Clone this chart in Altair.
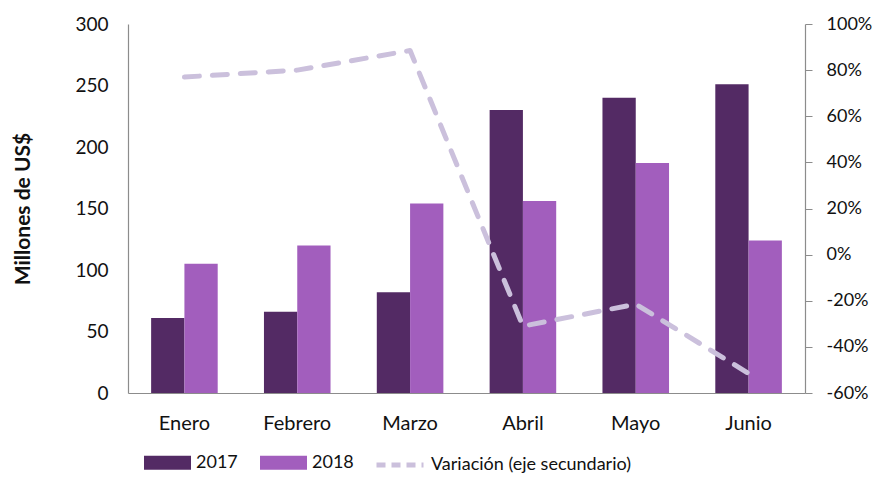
import altair as alt
import pandas as pd

meses = ["Enero", "Febrero", "Marzo", "Abril", "Mayo", "Junio"]
v2017 = [61, 66, 82, 230, 240, 251]
v2018 = [105, 120, 154, 156, 187, 124]
variacion = [0.77, 0.80, 0.885, -0.31, -0.215, -0.515]

serie_linea = "Variación (eje secundario)"
FONT = "Lato"

bars_df = pd.DataFrame(
    {"mes": meses * 2, "anio": ["2017"] * 6 + ["2018"] * 6, "valor": v2017 + v2018}
)
line_df = pd.DataFrame({"mes": meses, "var": variacion, "serie": [serie_linea] * 6})

x_enc = alt.X(
    "mes:N",
    sort=meses,
    scale=alt.Scale(paddingInner=0.41, paddingOuter=0.205),
    axis=alt.Axis(title=None, labelAngle=0, ticks=False, labelPadding=20, labelFontSize=20),
)

bars = (
    alt.Chart(bars_df)
    .mark_bar()
    .encode(
        x=x_enc,
        xOffset=alt.XOffset("anio:N", scale=alt.Scale(paddingInner=0, paddingOuter=0)),
        y=alt.Y(
            "valor:Q",
            scale=alt.Scale(domain=[0, 300], nice=False),
            axis=alt.Axis(
                title="Millones de US$",
                values=[0, 50, 100, 150, 200, 250, 300],
                ticks=False,
                labelPadding=20,
                titlePadding=41,
                titleFontWeight="bold",
                titleFontSize=21,
                grid=False,
            ),
        ),
        fill=alt.Fill(
            "anio:N",
            scale=alt.Scale(domain=["2017", "2018"], range=["#532a64", "#a25ebd"]),
            legend=alt.Legend(
                title=None,
                orient="none",
                direction="horizontal",
                legendX=16,
                legendY=415,
                symbolType="M-1,-0.3H1V0.3H-1Z",
                symbolSize=2209,
                symbolStrokeWidth=0,
                columnPadding=22,
                labelOffset=5,
                labelFontSize=18,
                labelLimit=400,
                padding=0,
            ),
        ),
    )
)

line = (
    alt.Chart(line_df)
    .mark_line(strokeWidth=5, strokeDash=[15, 13], strokeCap="round", strokeJoin="round")
    .encode(
        x=alt.X("mes:N", sort=meses),
        y=alt.Y(
            "var:Q",
            scale=alt.Scale(domain=[-0.6, 1.0], nice=False),
            axis=alt.Axis(
                title=None,
                orient="right",
                format=".0%",
                labelExpr="replace(datum.label, '\u2212', '-')",
                values=[-0.6, -0.4, -0.2, 0, 0.2, 0.4, 0.6, 0.8, 1.0],
                ticks=True,
                tickSize=7,
                labelPadding=14,
                labelFontSize=18,
                grid=False,
            ),
        ),
        stroke=alt.Stroke(
            "serie:N",
            scale=alt.Scale(domain=[serie_linea], range=["#cbc0dc"]),
            legend=alt.Legend(
                title=None,
                orient="none",
                legendX=246,
                legendY=415,
                symbolType="stroke",
                symbolSize=2209,
                symbolStrokeWidth=5,
                symbolDash=[9, 6],
                labelOffset=5,
                labelFontSize=18,
                labelLimit=400,
                padding=0,
            ),
        ),
    )
)

chart = (
    alt.layer(bars, line)
    .resolve_scale(y="independent", x="shared")
    .properties(
        width=677,
        height=369,
        autosize=alt.AutoSizeParams(type="none"),
        padding={"left": 120, "top": 16, "right": 69, "bottom": 81},
    )
    .configure_view(stroke=None)
    .configure_axis(
        labelFont=FONT,
        titleFont=FONT,
        labelFontSize=19,
        labelColor="#111111",
        titleColor="#111111",
        domainColor="#8c8c8c",
        tickColor="#8c8c8c",
        domainWidth=1.2,
    )
    .configure_legend(labelFont=FONT, labelColor="#111111")
)

chart.save("out.html", embed_options={"renderer": "svg", "actions": False})
